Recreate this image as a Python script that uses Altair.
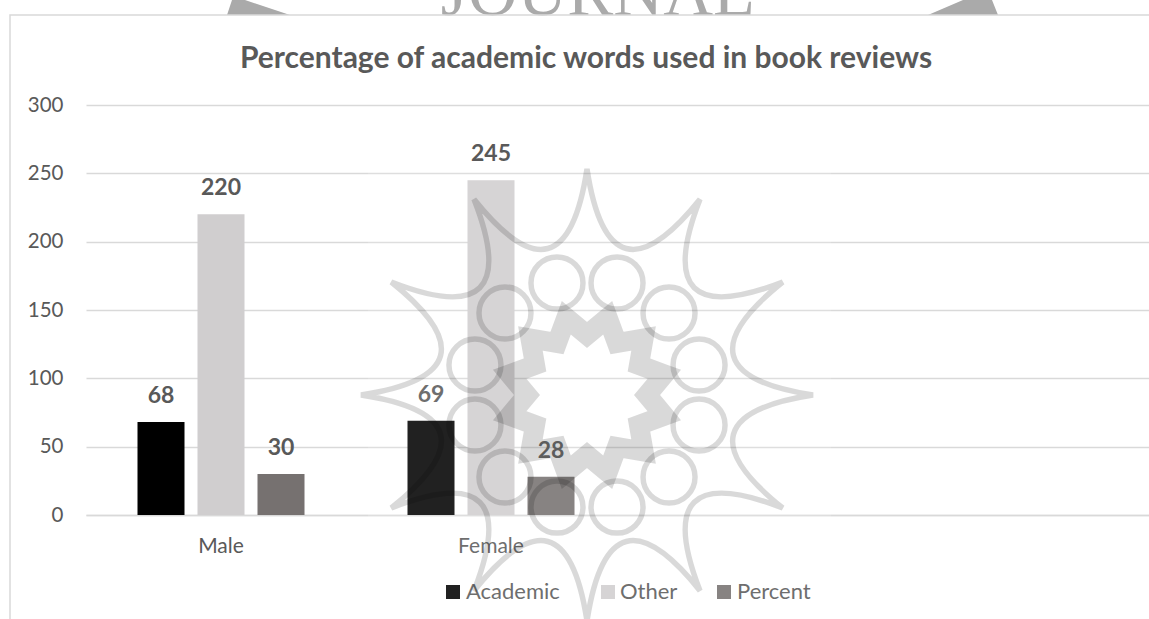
import math

import altair as alt
import pandas as pd

genders = ["Male", "Female"]
blank_slots = [" ", "  "]
series_names = ["Academic", "Other", "Percent"]
academic = [68, 69]
other = [220, 245]
percent = [30, 28]
series_colors = ["#000000", "#d0cecf", "#767170"]
y_ticks = [0, 50, 100, 150, 200, 250, 300]
legend_swatch_x = [367, 522, 638]
legend_text_x = [380, 534, 651]

rows = []
for name, values in zip(series_names, [academic, other, percent]):
    for gender, value in zip(genders, values):
        rows.append({"gender": gender, "series": name, "value": value})
table = pd.DataFrame(rows)

FONT = "Lato"
TEXT = "#595959"
GRID = "#d9d9d9"
one_row = pd.DataFrame({"k": [0]})

x_scale = alt.Scale(domain=genders + blank_slots, range=[0, 1080], paddingInner=0, paddingOuter=0)
offset_scale = alt.Scale(domain=series_names, range=[45, 225])
y_scale = alt.Scale(domain=[0, 300], nice=False)

x_enc = alt.X(
    "gender:N", scale=x_scale, sort=genders + blank_slots, title=None,
    axis=alt.Axis(labelAngle=0, ticks=False, domain=True, domainColor=GRID, domainWidth=1.5,
                  labelFont=FONT, labelFontSize=21, labelColor=TEXT, labelPadding=20,
                  labelExpr="trim(datum.label)"),
)
y_enc = alt.Y(
    "value:Q", scale=y_scale, title=None,
    axis=alt.Axis(values=y_ticks, ticks=False, domain=False, grid=True, gridColor=GRID, gridWidth=1.5,
                  labelFont=FONT, labelFontSize=20.5, labelColor=TEXT, labelPadding=23),
)
offset_enc = alt.XOffset("series:N", scale=offset_scale, sort=series_names)

bars = alt.Chart(table).mark_bar(width=47, align="center").encode(
    x=x_enc, xOffset=offset_enc, y=y_enc,
    color=alt.Color("series:N", sort=series_names, legend=None,
                    scale=alt.Scale(domain=series_names, range=series_colors)),
)
labels = alt.Chart(table).mark_text(font=FONT, fontSize=23, fontWeight="bold", color=TEXT,
                                    baseline="bottom", dy=-14).encode(
    x=x_enc, xOffset=offset_enc, y=y_enc, text="value:Q",
)

title = alt.Chart(one_row).mark_text(
    text="Percentage of academic words used in book reviews", font=FONT, fontSize=30,
    fontWeight="bold", color=TEXT, align="center", baseline="middle",
).encode(x=alt.value(500), y=alt.value(-46))

# Chart frame, running past the right and bottom edges of the page
frame = alt.Chart(one_row).mark_rect(fill="transparent", stroke=GRID, strokeWidth=1.5, clip=False).encode(
    x=alt.value(-76), x2=alt.value(1100), y=alt.value(-90), y2=alt.value(540),
)

# Legend laid out by hand along the bottom of the frame
legend_table = pd.DataFrame({"series": series_names, "color": series_colors,
                             "sx": legend_swatch_x, "tx": legend_text_x})
swatches = alt.Chart(legend_table).mark_square(size=196, opacity=1).encode(
    x=alt.X("sx:Q", scale=None), y=alt.value(487), color=alt.Color("color:N", scale=None),
)
legend_names = alt.Chart(legend_table).mark_text(font=FONT, fontSize=22, color=TEXT, align="left").encode(
    x=alt.X("tx:Q", scale=None), y=alt.value(487), text="series:N",
)


# Page watermark: a twelve-fold rosette, plus the journal banner peeking over the frame
def polar(radius, degrees):
    a = math.radians(degrees)
    return radius * math.cos(a) / 250, -radius * math.sin(a) / 250


def pt(p):
    return f"{p[0]:.4f} {p[1]:.4f}"


def circle(cx, cy, r):
    k = 0.5523 * r
    return (f"M{cx + r:.4f} {cy:.4f}"
            f"C{cx + r:.4f} {cy + k:.4f} {cx + k:.4f} {cy + r:.4f} {cx:.4f} {cy + r:.4f}"
            f"C{cx - k:.4f} {cy + r:.4f} {cx - r:.4f} {cy + k:.4f} {cx - r:.4f} {cy:.4f}"
            f"C{cx - r:.4f} {cy - k:.4f} {cx - k:.4f} {cy - r:.4f} {cx:.4f} {cy - r:.4f}"
            f"C{cx + k:.4f} {cy - r:.4f} {cx + r:.4f} {cy - k:.4f} {cx + r:.4f} {cy:.4f}Z")


outer_star = "M" + pt(polar(226, 0))
inner_star = "M" + pt(polar(80, 15))
rings = ""
for step in range(12):
    angle = step * 30
    outer_star += f"Q{pt(polar(85, angle + 15))} {pt(polar(226, angle + 30))}"
    inner_star += f"L{pt(polar(60, angle + 30))}L{pt(polar(80, angle + 45))}"
    cx, cy = polar(116, angle + 15)
    rings += circle(cx, cy, 26 / 250)

rosette_thin = alt.Chart(one_row).mark_point(
    shape=outer_star + "Z" + rings, size=250000, filled=False, stroke="#000000",
    strokeOpacity=0.15, strokeWidth=5.5, opacity=1, clip=False,
).encode(x=alt.value(501), y=alt.value(290))
rosette_core = alt.Chart(one_row).mark_point(
    shape=inner_star + "Z", size=250000, filled=False, stroke="#000000",
    strokeOpacity=0.15, strokeWidth=20, opacity=1, clip=False,
).encode(x=alt.value(501), y=alt.value(290))
wash = alt.Chart(one_row).mark_rect(fill="white", opacity=0.13, clip=False).encode(
    x=alt.value(282), x2=alt.value(745), y=alt.value(60), y2=alt.value(520),
)

banner_text = alt.Chart(one_row).mark_text(
    text="JOURNAL", font="Liberation Serif", fontSize=69, color="#aaaaaa", align="center",
    baseline="alphabetic",
).encode(x=alt.value(512), y=alt.value(-90))
banner_wedges = alt.Chart(one_row).mark_point(
    shape=("M-1.484 0.032L-1.464 -0.028L-1.412 -0.028L-1.232 0.032Z"
           "M1.32 0.032L1.46 -0.028L1.576 -0.028L1.6 0.032Z"),
    size=250000, fill="#aaaaaa", opacity=1, filled=True, clip=False,
).encode(x=alt.value(512), y=alt.value(-98))

chart = alt.layer(
    banner_text, banner_wedges, frame, title, bars, labels, swatches, legend_names,
    wash, rosette_thin, rosette_core,
).properties(
    width=1063, height=410,
    autosize=alt.AutoSizeParams(type="none"),
    padding={"left": 86, "top": 105, "right": 0, "bottom": 104},
    background="white",
).configure_view(stroke=None)

chart.save("out.html", embed_options={"renderer": "svg", "actions": False})
